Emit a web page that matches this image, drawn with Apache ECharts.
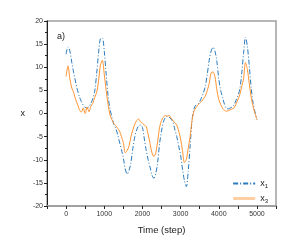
<!DOCTYPE html>
<html><head><meta charset="utf-8">
<script src="https://cdn.jsdelivr.net/npm/echarts@6/dist/echarts.min.js"></script>
<style>html,body{margin:0;padding:0;background:#fff}#c{width:294px;height:252px}</style>
</head><body><div id="c"></div>
<script>
const steps = [0,50,100,150,200,250,300,350,400,450,500,550,600,650,700,750,800,850,900,950,
1000,1050,1100,1150,1200,1250,1300,1350,1400,1450,1500,1550,1600,1650,1700,1750,1800,1850,1900,1950,
2000,2050,2100,2150,2200,2250,2300,2350,2400,2450,2500,2550,2600,2650,2700,2750,2800,2850,2900,2950,
3000,3050,3100,3150,3200,3250,3300,3350,3400,3450,3500,3550,3600,3650,3700,3750,3800,3850,3900,3950,
4000,4050,4100,4150,4200,4250,4300,4350,4400,4450,4500,4550,4600,4650,4700,4750,4800,4850,4900,4950,5000];
const x1 = [12.8,14.4,13.5,11.0,8.8,6.8,5.0,3.6,2.6,1.8,1.3,1.2,1.5,2.2,3.2,4.8,8.5,13.0,16.2,16.3,
13.5,8.5,3.8,1.0,-0.8,-2.3,-3.2,-4.5,-6.2,-7.8,-9.6,-12.0,-13.1,-12.3,-10.5,-7.5,-5.0,-3.5,-2.7,-2.5,
-3.0,-5.5,-8.0,-10.0,-11.6,-13.3,-14.0,-13.0,-10.5,-6.5,-3.8,-1.8,-0.9,-0.6,-0.8,-1.2,-1.8,-3.5,-5.0,-7.0,
-9.0,-12.0,-14.5,-15.8,-12.5,-7.0,-1.5,1.0,1.8,2.0,2.5,3.5,4.5,6.0,8.5,11.5,13.5,14.3,13.5,11.3,
7.5,5.0,3.5,2.0,1.1,1.0,1.2,1.4,1.8,2.8,3.8,5.2,8.5,13.0,16.5,14.5,10.3,5.5,2.2,0.3,-1.3];
const x3 = [8.0,10.3,7.5,5.5,4.5,3.0,2.0,0.8,0.3,1.2,0.0,1.4,0.4,1.6,2.2,3.5,4.5,7.0,10.5,11.5,
8.5,5.0,2.0,-0.3,-1.3,-2.2,-2.6,-3.2,-3.8,-5.0,-6.3,-8.5,-8.0,-7.0,-5.0,-3.5,-2.3,-1.5,-1.2,-1.8,
-2.1,-2.5,-2.8,-4.5,-6.5,-8.5,-9.3,-8.5,-6.0,-3.0,-1.5,-0.8,-0.4,-0.6,-0.4,-1.0,-1.5,-2.0,-2.5,-3.8,
-5.5,-8.0,-10.6,-10.0,-7.5,-5.0,-1.5,0.5,1.2,1.8,2.2,2.6,3.2,3.8,5.0,6.5,8.8,9.0,8.0,5.2,
3.0,2.0,1.1,0.7,0.5,0.6,0.8,1.0,1.2,2.0,3.0,4.0,5.8,7.5,11.0,9.5,6.5,3.5,1.5,0.0,-1.3];
const xTicks = [0,1000,2000,3000,4000,5000];
const yTicks = [-20,-15,-10,-5,0,5,10,15,20];

const font = 'Liberation Sans, Arial, sans-serif';
const chart = echarts.init(document.getElementById('c'), null, {renderer:'canvas'});
chart.setOption({
  animation:false,
  backgroundColor:'#fff',
  title:{text:'a)', left:52, top:27, textStyle:{fontFamily:font, fontSize:9, fontWeight:'normal', color:'#222'}},
  grid:{left:47, right:18, top:21, bottom:46, show:true, borderColor:'#a0a0a0', borderWidth:1.5, backgroundColor:'transparent'},
  legend:{orient:'vertical', right:21, top:174, itemWidth:22, itemHeight:8, itemGap:5,
    itemStyle:{opacity:0},
    textStyle:{fontFamily:font, fontSize:9, color:'#222',
      rich:{a:{fontFamily:font,fontSize:9,color:'#222'}, b:{fontFamily:font,fontSize:6,color:'#222',verticalAlign:'bottom',padding:[5,0,0,0]}}},
    formatter: n => '{a|x}{b|' + n.slice(1) + '}',
    data:[{name:'x1'},{name:'x3', lineStyle:{width:3, opacity:0.45}}]},
  xAxis:{type:'value', min:-500, max:5500, interval:500,
    name:'Time (step)', nameLocation:'middle', nameGap:19,
    nameTextStyle:{fontFamily:font, fontSize:9.5, color:'#222'},
    axisLine:{show:true, onZero:false, lineStyle:{color:'#a0a0a0', width:2}},
    axisTick:{show:true, inside:false, length:3, lineStyle:{color:'#222', width:1}},
    splitLine:{show:false},
    axisLabel:{fontFamily:font, fontSize:7, color:'#333', margin:5, showMinLabel:true, showMaxLabel:true,
      formatter: v => xTicks.includes(v) ? String(v) : ''}},
  yAxis:{type:'value', min:-20, max:20, interval:5,
    name:'x', nameLocation:'middle', nameGap:22, nameRotate:0,
    nameTextStyle:{fontFamily:font, fontSize:9, color:'#222'},
    axisLine:{show:true, onZero:false, lineStyle:{color:'#222', width:1}},
    axisTick:{show:true, inside:false, length:3, lineStyle:{color:'#222', width:1}},
    minorTick:{show:true, splitNumber:2, length:2, lineStyle:{color:'#222', width:1}},
    splitLine:{show:false},
    axisLabel:{fontFamily:font, fontSize:7, color:'#333', margin:4,
      formatter: v => yTicks.includes(v) ? String(v) : ''}},
  series:[
    {name:'x1', type:'line', symbol:'none', smooth:0.3, data: steps.map((s,i)=>[s,x1[i]]),
      lineStyle:{color:'#2a7bbd', width:1, type:[5,2,1,2]}, itemStyle:{color:'#2a7bbd'}, z:2},
    {name:'x3', type:'line', symbol:'none', smooth:0.3, data: steps.map((s,i)=>[s,x3[i]]),
      lineStyle:{color:'#ff9533', width:1}, itemStyle:{color:'#ff9533'}, z:3}
  ]
});
</script></body></html>
